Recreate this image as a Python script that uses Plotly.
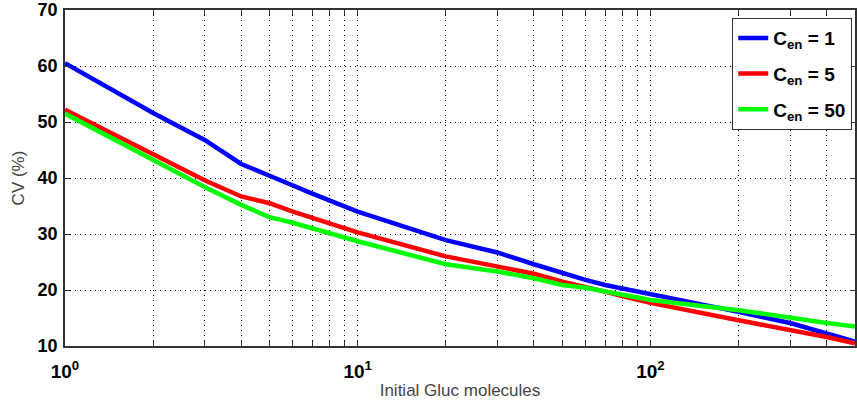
import plotly.graph_objects as go

x_vals = [1, 2, 3, 4, 5, 6, 7, 8, 9, 10, 20, 30, 40, 50, 60, 70, 80, 90, 100, 200, 300, 400, 500]
cv_c1 = [60.5, 51.6, 46.8, 42.5, 40.4, 38.6, 37.2, 36.0, 35.0, 34.0, 28.9, 26.7, 24.6, 23.0, 21.8, 20.9, 20.3, 19.7, 19.1, 16.1, 14.1, 12.3, 10.8]
cv_c5 = [52.2, 44.3, 39.6, 36.7, 35.5, 34.0, 32.9, 31.9, 31.1, 30.3, 26.0, 24.3, 22.9, 21.5, 20.6, 19.7, 18.9, 18.2, 17.7, 14.6, 12.9, 11.6, 10.5]
cv_c50 = [51.5, 43.2, 38.4, 35.2, 33.0, 32.0, 31.0, 30.2, 29.4, 28.7, 24.6, 23.3, 22.1, 20.9, 20.4, 19.7, 19.1, 18.6, 18.2, 16.4, 15.0, 14.1, 13.5]
series_names = ["C<sub>en</sub> = 1", "C<sub>en</sub> = 5", "C<sub>en</sub> = 50"]
series_colors = ["#0000FF", "#FF0000", "#00FF00"]
x_tickvals = [1, 10, 100]
x_ticktext = ["10<sup>0</sup>", "10<sup>1</sup>", "10<sup>2</sup>"]
x_minor_vals = [2, 3, 4, 5, 6, 7, 8, 9, 20, 30, 40, 50, 60, 70, 80, 90, 200, 300, 400]

fig = go.Figure()
for i, (name, ys, col) in enumerate(zip(series_names, [cv_c1, cv_c5, cv_c50], series_colors)):
    fig.add_trace(go.Scatter(x=x_vals, y=ys, mode="lines", name=name, legendgroup=f"g{i}",
                             line=dict(color=col, width=4.5)))

grid_dash = "1px,4px"
axis_common = dict(
    showline=True, linecolor="#333333", linewidth=1.5, mirror="ticks",
    ticks="inside", ticklen=5, tickcolor="#333333",
    showgrid=True, gridcolor="#000000", gridwidth=1, griddash=grid_dash,
    zeroline=False,
)

fig.update_xaxes(type="log", range=[0, 2.69897], tickvals=x_tickvals, ticktext=x_ticktext,
                 minor=dict(tickvals=x_minor_vals, ticks="inside", ticklen=5, tickcolor="#333333",
                            showgrid=True, gridcolor="#000000", griddash=grid_dash, gridwidth=1),
                 ticklabelstandoff=7,
                 tickfont=dict(family="Liberation Sans, Arial", size=19, color="#000000", weight="bold"),
                 title=dict(text="Initial Gluc molecules", standoff=4,
                            font=dict(family="Liberation Sans, Arial", size=17, color="#444444")),
                 **axis_common)
fig.update_yaxes(range=[10, 70], dtick=10, ticklabelstandoff=2,
                 tickfont=dict(family="Liberation Sans, Arial", size=18, color="#000000", weight="bold"),
                 title=dict(text="CV (%)", standoff=9,
                            font=dict(family="Liberation Sans, Arial", size=17, color="#444444")),
                 **axis_common)

fig.update_layout(
    width=857, height=410,
    margin=dict(l=65, r=0, t=10, b=64),
    plot_bgcolor="white", paper_bgcolor="white",
    legend=dict(x=0.9965, y=0.976, xanchor="right", yanchor="top",
                bgcolor="white", bordercolor="#333333", borderwidth=1,
                font=dict(family="Liberation Sans, Arial", size=19, color="#000000", weight="bold"),
                tracegroupgap=8),
)

fig.write_html("out.html")
